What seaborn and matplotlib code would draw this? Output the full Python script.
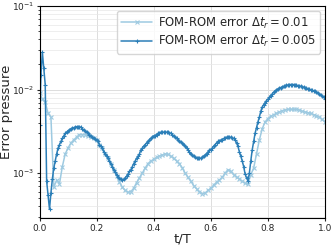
import numpy as np
import pandas as pd
import matplotlib
matplotlib.use("Agg")
import matplotlib.pyplot as plt
import seaborn as sns

# time axis t/T
t_coarse = np.linspace(0, 1, 101)   # dt_r = 0.01
t_fine = np.linspace(0, 1, 201)     # dt_r = 0.005

err_coarse = [
    0.0090, 0.0077, 0.0071, 0.0052, 0.0047, 0.00068, 0.00082, 0.00075, 0.0012, 0.0017,
    0.0020, 0.0023, 0.0025, 0.0027, 0.0029, 0.0029, 0.0029, 0.0028, 0.0027, 0.0026,
    0.0025, 0.0022, 0.0020, 0.0017, 0.0015, 0.0013, 0.0011, 0.00092, 0.00078, 0.00068,
    0.00062, 0.00059, 0.00060, 0.00066, 0.00077, 0.00088, 0.0010, 0.00115, 0.0013, 0.0014,
    0.00146, 0.00155, 0.0016, 0.00165, 0.0017, 0.00168, 0.0016, 0.0015, 0.0014, 0.0013,
    0.00116, 0.0010, 0.00089, 0.0008, 0.00071, 0.00065, 0.0006, 0.00057, 0.00058, 0.00062,
    0.00066, 0.00072, 0.00078, 0.00083, 0.00089, 0.0010, 0.0011, 0.00105, 0.00096, 0.0009,
    0.00085, 0.0008, 0.00076, 0.00074, 0.00096, 0.00115, 0.0017, 0.0025, 0.0034, 0.0041,
    0.0045, 0.0048, 0.0050, 0.0052, 0.0054, 0.0056, 0.0057, 0.0058, 0.0058, 0.0058,
    0.0058, 0.0057, 0.0055, 0.0054, 0.0053, 0.0052, 0.0050, 0.0049, 0.0047, 0.0044,
    0.0041,
]

err_fine = [
    0.0038, 0.015, 0.028, 0.018, 0.0115, 0.0008, 0.00055, 0.00037, 0.00058, 0.00085,
    0.00115, 0.0014, 0.0017, 0.0020, 0.0022, 0.0024, 0.0026, 0.0028, 0.0030, 0.0031,
    0.0032, 0.0033, 0.0034, 0.00345, 0.0035, 0.00355, 0.0036, 0.0036, 0.0036, 0.00355,
    0.0034, 0.0033, 0.0032, 0.0031, 0.0030, 0.0029, 0.0028, 0.0027, 0.0026, 0.00255,
    0.0025, 0.0024, 0.0022, 0.0021, 0.0020, 0.0018, 0.0017, 0.0016, 0.0015, 0.0014,
    0.0013, 0.0012, 0.0011, 0.00103, 0.00096, 0.0009, 0.00087, 0.00084, 0.00083, 0.00084,
    0.00087, 0.00092, 0.00098, 0.00105, 0.0011, 0.0012, 0.0013, 0.0014, 0.0015, 0.0016,
    0.0017, 0.0019, 0.0020, 0.0021, 0.0022, 0.0023, 0.0024, 0.0025, 0.0026, 0.0027,
    0.0028, 0.0028, 0.0029, 0.0030, 0.0030, 0.0031, 0.0031, 0.0031, 0.0031, 0.0031,
    0.0031, 0.0030, 0.0030, 0.0029, 0.0028, 0.0027, 0.0026, 0.0025, 0.0024, 0.00235,
    0.0023, 0.0022, 0.0021, 0.0020, 0.0019, 0.0018, 0.0017, 0.00165, 0.0016, 0.00155,
    0.0015, 0.0015, 0.0015, 0.0015, 0.00155, 0.0016, 0.00165, 0.0017, 0.0018, 0.0019,
    0.0019, 0.0020, 0.0021, 0.0022, 0.0023, 0.0024, 0.0024, 0.0025, 0.0025, 0.0026,
    0.0026, 0.0027, 0.0027, 0.0027, 0.0027, 0.0026, 0.0026, 0.0025, 0.0023, 0.0021,
    0.0018, 0.0016, 0.0014, 0.0012, 0.00098, 0.00088, 0.00081, 0.0010, 0.0014, 0.0019,
    0.0024, 0.0030, 0.0035, 0.0041, 0.0047, 0.0055, 0.0062, 0.0066, 0.0070, 0.0074,
    0.0077, 0.0081, 0.0085, 0.0089, 0.0093, 0.0096, 0.0099, 0.0102, 0.0104, 0.0106,
    0.0108, 0.0110, 0.0111, 0.0113, 0.0114, 0.0115, 0.0115, 0.0115, 0.0115, 0.0114,
    0.0113, 0.0112, 0.0111, 0.0110, 0.0109, 0.0107, 0.0106, 0.0104, 0.0103, 0.0101,
    0.0100, 0.0098, 0.0097, 0.0095, 0.0093, 0.0091, 0.0089, 0.0086, 0.0083, 0.0081,
    0.0078,
]

labels = [r"FOM-ROM error $\Delta t_r = 0.01$", r"FOM-ROM error $\Delta t_r = 0.005$"]
colors = ["#9ecae1", "#2c7fb8"]

sns.set_style("ticks")
fig, ax = plt.subplots(figsize=(3.32, 2.45), dpi=100)
fig.subplots_adjust(left=0.119, right=0.979, top=0.975, bottom=0.11)

# seaborn paints marker edges white by default; keep them the line colour
sns.lineplot(x=t_coarse, y=err_coarse, ax=ax, color=colors[0], marker="x",
             markersize=3.5, markeredgewidth=0.8, markeredgecolor=colors[0],
             linewidth=1.1, label=labels[0])
sns.lineplot(x=t_fine, y=err_fine, ax=ax, color=colors[1], marker="+",
             markersize=3.5, markeredgewidth=0.8, markeredgecolor=colors[1],
             linewidth=1.1, label=labels[1])

ax.set_yscale("log")
ax.set_xlim(0, 1)
ax.set_ylim(2.9e-4, 1e-1)
ax.grid(which="major", color="#dddddd", linewidth=0.7)
ax.grid(which="minor", color="#e8e8e8", linewidth=0.5)
ax.tick_params(labelsize=6.5, length=2.5, pad=1.5)
ax.tick_params(which="minor", length=1.5)
for s in ax.spines.values():
    s.set_color("black")
    s.set_linewidth(0.8)
ax.set_xlabel("t/T", fontsize=9.5, labelpad=0)
ax.set_ylabel("Error pressure", fontsize=9.5)
ax.yaxis.set_label_coords(-0.093, 0.5)
ax.legend(loc="upper right", fontsize=8.4, frameon=True, handlelength=2.6,
          borderaxespad=0.4, labelspacing=0.3, handletextpad=0.5)

fig.savefig("out.png", dpi=100)
